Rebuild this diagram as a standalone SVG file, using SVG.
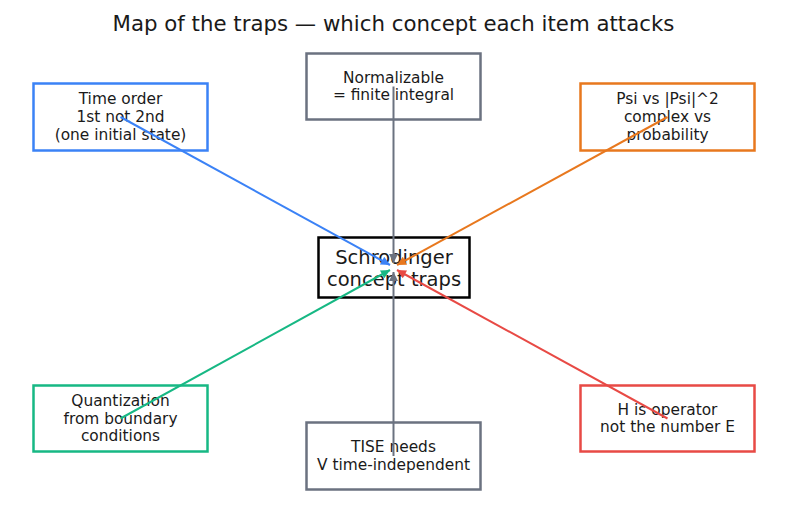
<svg xmlns="http://www.w3.org/2000/svg" width="787" height="508" viewBox="0 0 787 508">
<style>
text{font-family:"DejaVu Sans","Liberation Sans",sans-serif;fill:#1a1a1a;text-anchor:middle;dominant-baseline:central}
.t{font-size:15.4px}
.box{fill:#fff;stroke-width:2.5}
.c{stroke-width:2;fill:none}
</style>
<defs>
<marker id="ab" viewBox="0 0 10 10" refX="10" refY="5" markerWidth="11" markerHeight="9" orient="auto" markerUnits="userSpaceOnUse"><path d="M0,0L10,5L0,10z" fill="#3b82f6"/></marker>
<marker id="ao" viewBox="0 0 10 10" refX="10" refY="5" markerWidth="11" markerHeight="9" orient="auto" markerUnits="userSpaceOnUse"><path d="M0,0L10,5L0,10z" fill="#e8781e"/></marker>
<marker id="ag" viewBox="0 0 10 10" refX="10" refY="5" markerWidth="11" markerHeight="9" orient="auto" markerUnits="userSpaceOnUse"><path d="M0,0L10,5L0,10z" fill="#17b884"/></marker>
<marker id="ar" viewBox="0 0 10 10" refX="10" refY="5" markerWidth="11" markerHeight="9" orient="auto" markerUnits="userSpaceOnUse"><path d="M0,0L10,5L0,10z" fill="#e84a45"/></marker>
<marker id="ay" viewBox="0 0 10 10" refX="10" refY="5" markerWidth="11" markerHeight="9" orient="auto" markerUnits="userSpaceOnUse"><path d="M0,0L10,5L0,10z" fill="#6b7280"/></marker>
</defs>
<rect width="787" height="508" fill="#fff"/>
<text x="393.5" y="23" style="font-size:21.3px">Map of the traps — which concept each item attacks</text>
<g id="n-time"><rect class="box" x="33.5" y="83.5" width="174" height="67" stroke="#3b82f6"/><text class="t" x="120.5" y="99">Time order</text><text class="t" x="120.5" y="117">1st not 2nd</text><text class="t" x="120.5" y="135">(one initial state)</text></g>
<g id="n-norm"><rect class="box" x="306.5" y="53.5" width="174" height="66" stroke="#6b7280"/><text class="t" x="393.5" y="78">Normalizable</text><text class="t" x="393.5" y="95">= finite integral</text></g>
<g id="n-psi"><rect class="box" x="580.5" y="83.5" width="174" height="67" stroke="#e8781e"/><text class="t" x="667.5" y="99">Psi vs |Psi|^2</text><text class="t" x="667.5" y="117">complex vs</text><text class="t" x="667.5" y="135">probability</text></g>
<g id="n-center"><rect class="box" x="318.5" y="237.5" width="151" height="60" stroke="#000"/><text x="394" y="257" style="font-size:19.5px">Schrodinger</text><text x="394" y="279" style="font-size:19.5px">concept traps</text></g>
<g id="n-quant"><rect class="box" x="33.5" y="385.5" width="174" height="66" stroke="#17b884"/><text class="t" x="120.5" y="401">Quantization</text><text class="t" x="120.5" y="418.5">from boundary</text><text class="t" x="120.5" y="436">conditions</text></g>
<g id="n-tise"><rect class="box" x="306.5" y="422.5" width="174" height="67" stroke="#6b7280"/><text class="t" x="393.5" y="447">TISE needs</text><text class="t" x="393.5" y="465">V time-independent</text></g>
<g id="n-h"><rect class="box" x="580.5" y="385.5" width="174" height="66" stroke="#e84a45"/><text class="t" x="667.5" y="410">H is operator</text><text class="t" x="667.5" y="427">not the number E</text></g>
<g id="connectors">
<line class="c" x1="120.5" y1="117" x2="390" y2="265" stroke="#3b82f6" marker-end="url(#ab)"/>
<line class="c" x1="667.5" y1="117" x2="397" y2="265" stroke="#e8781e" marker-end="url(#ao)"/>
<line class="c" x1="120.5" y1="418.5" x2="390" y2="270" stroke="#17b884" marker-end="url(#ag)"/>
<line class="c" x1="667.5" y1="418.5" x2="397" y2="270" stroke="#e84a45" marker-end="url(#ar)"/>
<line class="c" x1="393.5" y1="86.5" x2="393.5" y2="263" stroke="#6b7280" marker-end="url(#ay)"/>
<line class="c" x1="393.5" y1="456" x2="393.5" y2="272" stroke="#6b7280" marker-end="url(#ay)"/>
</g>
</svg>
